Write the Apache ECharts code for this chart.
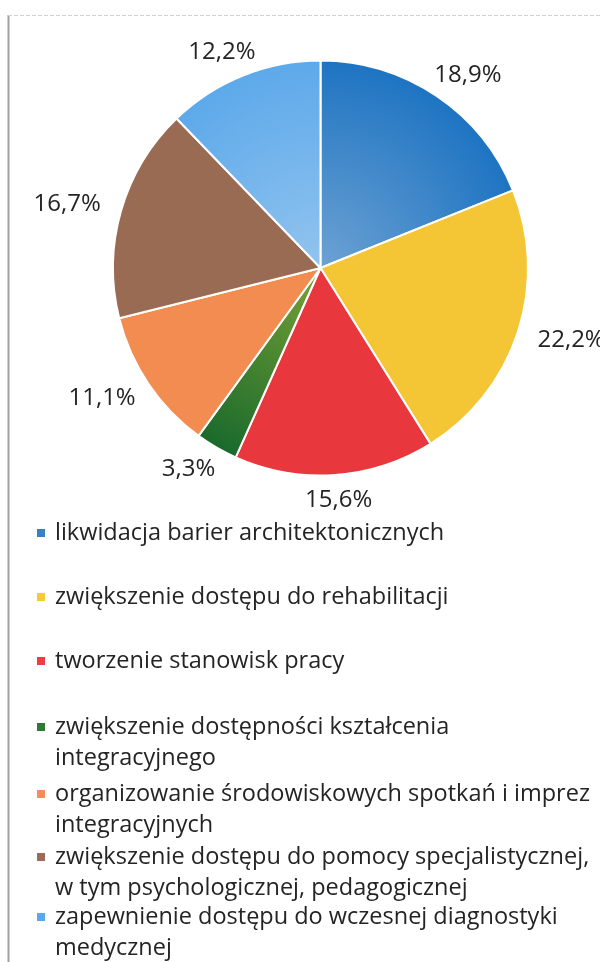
<!DOCTYPE html>
<html>
<head>
<meta charset="utf-8">
<script src="https://cdn.jsdelivr.net/npm/echarts@6/dist/echarts.min.js"></script>
<style>
html,body{margin:0;padding:0;background:#fff;}
#chart{width:600px;height:962px;}
</style>
</head>
<body>
<div id="chart"></div>
<script>
// ---- data ----
var categories = [
  'likwidacja barier architektonicznych',
  'zwiększenie dostępu do rehabilitacji',
  'tworzenie stanowisk pracy',
  'zwiększenie dostępności kształcenia\nintegracyjnego',
  'organizowanie środowiskowych spotkań i imprez\nintegracyjnych',
  'zwiększenie dostępu do pomocy specjalistycznej,\nw tym psychologicznej, pedagogicznej',
  'zapewnienie dostępu do wczesnej diagnostyki\nmedycznej'
];
var shares = [18.9, 22.2, 15.6, 3.3, 11.1, 16.7, 12.2];

// ---- style ----
var CX = 320.5, CY = 268, R = 207.5;
var FONT = 'Open Sans';
var FS_LEGEND = 23.5, FS_LABEL = 24;
var TEXT = '#242424';
function radial(inner, outer) {
  return { type: 'radial', x: CX, y: CY, r: R, global: true,
    colorStops: [{ offset: 0, color: inner }, { offset: 1, color: outer }] };
}
var colors = [
  radial('#6da2d3', '#1e74c2'),
  '#f4c534',
  '#e8383d',
  radial('#7aa236', '#1a6a2c'),
  '#f28c50',
  '#9a6b53',
  radial('#92c4ef', '#5da9ea')
];
var legendColors = ['#3a7fc0', '#f6c93c', '#ea3f45', '#2f7a36', '#f48d5c', '#9d6a58', '#5aa9ec'];
// first-line centre (y) of each legend entry
var legendY = [533, 597, 661, 727, 794, 857, 917];
var LINE_H = 31;
var GAP = 10, AX = 46, AY = 15;

var legends = categories.map(function (name, i) {
  var lines = name.split('\n').length;
  var total = 2 * lines - 1;
  return {
    orient: 'vertical',
    left: 35,
    top: legendY[i] - total * LINE_H / 2,
    padding: 0,
    itemWidth: 10,
    itemHeight: 10,
    icon: 'rect',
    selectedMode: false,
    formatter: function (n) { return lines > 1 ? '\n' + n : n; },
    data: [{ name: name, itemStyle: { color: legendColors[i] } }],
    textStyle: {
      fontFamily: FONT, fontSize: FS_LEGEND, color: TEXT, lineHeight: LINE_H,
      padding: [0, 0, 0, 4]
    }
  };
});

var chart = echarts.init(document.getElementById('chart'), null, { renderer: 'canvas' });
chart.setOption({
  backgroundColor: '#ffffff',
  animation: false,
  graphic: [
    { type: 'line', shape: { x1: 8.5, y1: 15, x2: 8.5, y2: 962 }, style: { stroke: '#a0a0a0', lineWidth: 2 } },
    { type: 'line', shape: { x1: 8, y1: 15.5, x2: 600, y2: 15.5 }, style: { stroke: '#d0d0d0', lineWidth: 1, lineDash: [4, 2] } }
  ],
  legend: legends,
  series: [{
    type: 'pie',
    center: [CX, CY],
    radius: R,
    startAngle: 90,
    clockwise: true,
    avoidLabelOverlap: false,
    data: categories.map(function (n, i) {
      return { name: n, value: shares[i], itemStyle: { color: colors[i] } };
    }),
    itemStyle: { borderColor: '#ffffff', borderWidth: 2 },
    label: {
      show: true,
      position: 'outside',
      fontFamily: FONT, fontSize: FS_LABEL, color: TEXT,
      formatter: function (p) { return String(p.value).replace('.', ',') + '%'; }
    },
    labelLine: { show: true, length: 10, length2: 0, lineStyle: { color: 'rgba(0,0,0,0)', width: 0 } },
    labelLayout: function (p) {
      var pts = p.labelLinePoints;
      if (!pts) return {};
      var x0 = pts[0][0], y0 = pts[0][1], x1 = pts[1][0], y1 = pts[1][1];
      var dx = x1 - x0, dy = y1 - y0, L = Math.sqrt(dx * dx + dy * dy) || 1;
      var ux = dx / L, uy = dy / L;
      return { x: x0 + ux * (GAP + AX), y: y0 + uy * (GAP + AY), align: 'center', verticalAlign: 'middle' };
    },
    emphasis: { disabled: true }
  }]
});
</script>
</body>
</html>
